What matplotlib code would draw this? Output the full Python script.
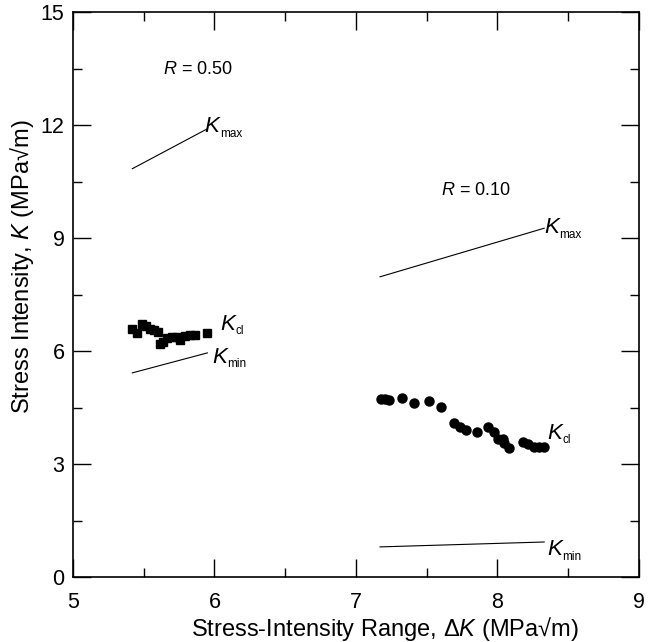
import matplotlib
matplotlib.use("Agg")
import matplotlib.pyplot as plt
from matplotlib.ticker import MultipleLocator

plt.rcParams['font.family'] = ['Liberation Sans', 'DejaVu Sans']
plt.rcParams['mathtext.fontset'] = 'custom'
plt.rcParams['mathtext.rm'] = 'Liberation Sans'
plt.rcParams['mathtext.it'] = 'Liberation Sans:italic'

# R = 0.50 closure data (squares)
dk_050 = [5.415, 5.450, 5.486, 5.514, 5.544, 5.575, 5.603, 5.615, 5.638, 5.662,
          5.698, 5.733, 5.756, 5.792, 5.827, 5.862, 5.945]
kcl_050 = [6.58, 6.47, 6.71, 6.67, 6.58, 6.55, 6.51, 6.18, 6.25, 6.34,
           6.38, 6.38, 6.29, 6.40, 6.42, 6.43, 6.49]

# R = 0.10 closure data (circles)
dk_010 = [7.175, 7.205, 7.235, 7.323, 7.412, 7.514, 7.601, 7.695, 7.735, 7.777,
          7.853, 7.935, 7.977, 8.006, 8.037, 8.046, 8.081, 8.178, 8.213, 8.258,
          8.293, 8.329]
kcl_010 = [4.72, 4.72, 4.70, 4.76, 4.61, 4.68, 4.52, 4.09, 3.99, 3.90,
           3.86, 3.97, 3.86, 3.67, 3.67, 3.55, 3.43, 3.58, 3.52, 3.46,
           3.46, 3.46]

# Kmax / Kmin lines (endpoints)
line_dk_050 = [5.42, 5.95]
kmax_050 = [10.84, 11.90]
kmin_050 = [5.42, 5.95]
line_dk_010 = [7.17, 8.33]
kmax_010 = [7.97, 9.26]
kmin_010 = [0.80, 0.93]

fig = plt.figure(figsize=(6.57, 6.42), dpi=100)
ax = fig.add_axes([0.111, 0.1012, 0.8616, 0.8801])

lw = 0.8
ax.plot(line_dk_050, kmax_050, color='black', lw=lw)
ax.plot(line_dk_050, kmin_050, color='black', lw=lw)
ax.plot(line_dk_010, kmax_010, color='black', lw=lw)
ax.plot(line_dk_010, kmin_010, color='black', lw=lw)

ax.plot(dk_050, kcl_050, 's', color='black', ms=5.5, mec='black')
ax.plot(dk_010, kcl_010, 'o', color='black', ms=6.5, mec='black')

ax.set_xlim(5, 9)
ax.set_ylim(0, 15)
ax.xaxis.set_major_locator(MultipleLocator(1))
ax.xaxis.set_minor_locator(MultipleLocator(0.5))
ax.yaxis.set_major_locator(MultipleLocator(3))
ax.yaxis.set_minor_locator(MultipleLocator(1.5))
ax.tick_params(which='both', direction='in', top=True, right=True, width=1.0)
ax.tick_params(which='major', length=13, labelsize=15.5)
ax.tick_params(axis='x', which='major', pad=11)
ax.tick_params(axis='y', which='major', pad=6)
ax.tick_params(which='minor', length=6.5)
for s in ax.spines.values():
    s.set_linewidth(1.2)

ax.set_xlabel('Stress-Intensity Range, $\\Delta K$ (MPa\u221am)', fontsize=17)
ax.set_ylabel('Stress Intensity, $K$ (MPa\u221am)', fontsize=17)
ax.xaxis.set_label_coords(0.551, -0.068)
ax.yaxis.set_label_coords(-0.066, 0.55)

ax.text(5.88, 13.47, '$R$ = 0.50', fontsize=13, ha='center', va='center')
ax.text(7.845, 10.27, '$R$ = 0.10', fontsize=13, ha='center', va='center')


def klabel(x, y, sub):
    ax.text(x, y, 'K', fontsize=16, style='italic', ha='left', va='center')
    ax.annotate(sub, xy=(x, y), xytext=(11, -5), textcoords='offset points',
                fontsize=8.5, ha='left', va='center')


klabel(5.93, 11.95, 'max')
klabel(6.04, 6.71, 'cl')
klabel(5.985, 5.83, 'min')
klabel(8.33, 9.27, 'max')
klabel(8.35, 3.81, 'cl')
klabel(8.35, 0.72, 'min')

fig.savefig('out.png', dpi=100)
